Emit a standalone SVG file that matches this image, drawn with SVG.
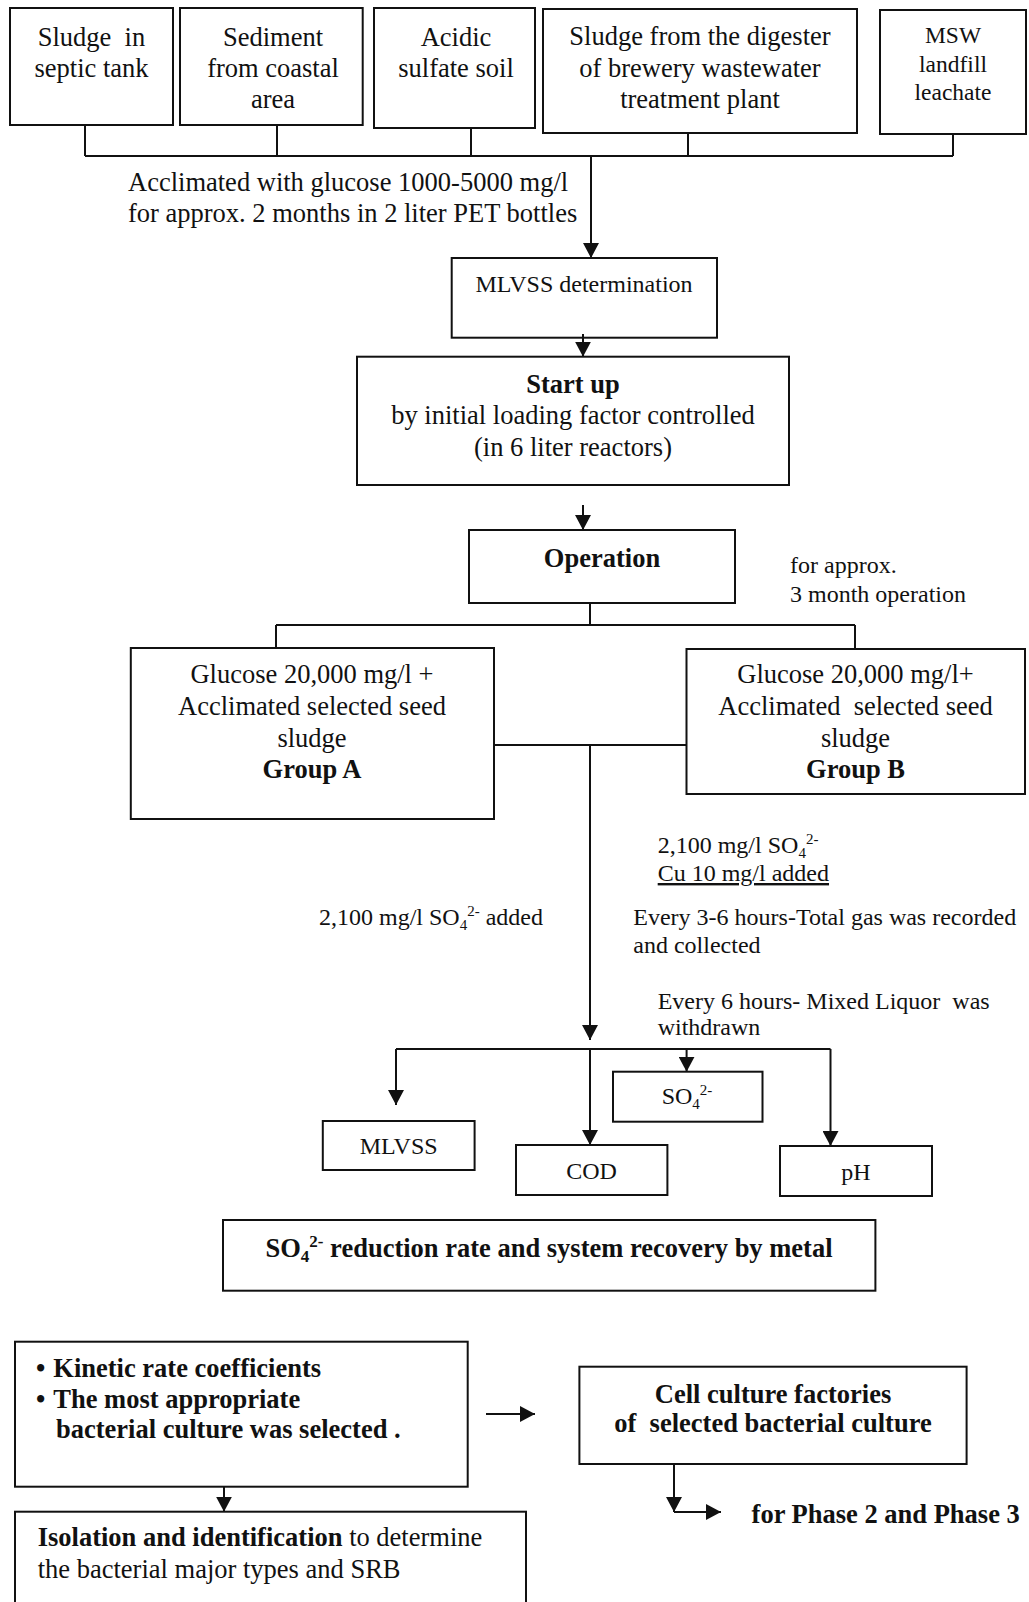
<svg xmlns="http://www.w3.org/2000/svg" width="1029" height="1602" viewBox="0 0 1029 1602">
<style>
.box{fill:none;stroke:#111;stroke-width:2}
.ln{fill:none;stroke:#111;stroke-width:2}
.t{font-family:"Liberation Serif","Times New Roman",serif;font-size:26.5px;fill:#111}
.s{font-family:"Liberation Serif","Times New Roman",serif;font-size:24px;fill:#111}
.m{text-anchor:middle}
.b{font-weight:bold}
</style>
<defs>
<marker id="ah" markerWidth="15" markerHeight="16" refX="15" refY="8" orient="auto" markerUnits="userSpaceOnUse">
<path d="M0,0 L15,8 L0,16 z" fill="#111"/>
</marker>
</defs>
<rect width="1029" height="1602" fill="#ffffff"/>

<g id="connectors">
<path class="ln" d="M85,125 V156 M277,125 V156 M471,128 V156 M688,133 V156 M953,134 V156 M85,156 H953"/>
<path class="ln" d="M591,156 V258" marker-end="url(#ah)"/>
<path class="ln" d="M583,334 V356.7" marker-end="url(#ah)"/>
<path class="ln" d="M583,505 V530" marker-end="url(#ah)"/>
<path class="ln" d="M590,603 V625 M276,625 H855 M276,625 V648 M855,625 V649"/>
<path class="ln" d="M494,745 H686.5"/>
<path class="ln" d="M590,745 V1040" marker-end="url(#ah)"/>
<path class="ln" d="M396,1049 H830.5"/>
<path class="ln" d="M396,1049 V1105" marker-end="url(#ah)"/>
<path class="ln" d="M590,1049 V1145" marker-end="url(#ah)"/>
<path class="ln" d="M686.6,1049 V1071.7" marker-end="url(#ah)"/>
<path class="ln" d="M830.5,1049 V1146" marker-end="url(#ah)"/>
<path class="ln" d="M224,1486.7 V1511.7" marker-end="url(#ah)"/>
<path class="ln" d="M486,1414 H535" marker-end="url(#ah)"/>
<path class="ln" d="M674,1464 V1512" marker-end="url(#ah)"/>
<path class="ln" d="M674,1512 H721" marker-end="url(#ah)"/>
</g>

<g id="n-septic">
<rect class="box" x="10" y="8" width="163" height="117"/>
<text class="t m" x="91.5" y="46" xml:space="preserve">Sludge  in</text>
<text class="t m" x="91.5" y="77">septic tank</text>
</g>
<g id="n-sediment">
<rect class="box" x="180" y="8" width="182.7" height="117"/>
<text class="t m" x="273" y="46">Sediment</text>
<text class="t m" x="273" y="77">from coastal</text>
<text class="t m" x="273" y="108">area</text>
</g>
<g id="n-acidic">
<rect class="box" x="374" y="8" width="161" height="120"/>
<text class="t m" x="456" y="46">Acidic</text>
<text class="t m" x="456" y="77">sulfate soil</text>
</g>
<g id="n-brewery">
<rect class="box" x="543" y="9" width="314" height="124"/>
<text class="t m" x="700" y="45">Sludge from the digester</text>
<text class="t m" x="700" y="77">of brewery wastewater</text>
<text class="t m" x="700" y="108">treatment plant</text>
</g>
<g id="n-msw">
<rect class="box" x="880" y="10" width="146" height="124"/>
<text class="t m" style="font-size:23.5px" x="953" y="43">MSW</text>
<text class="t m" style="font-size:23.5px" x="953" y="71.5">landfill</text>
<text class="t m" style="font-size:23.5px" x="953" y="100">leachate</text>
</g>

<g id="l-acclimated">
<text class="t" x="128" y="191">Acclimated with glucose 1000-5000 mg/l</text>
<text class="t" x="128" y="222">for approx. 2 months in 2 liter PET bottles</text>
</g>

<g id="n-mlvss-det">
<rect class="box" x="451.7" y="258" width="265.3" height="79.7"/>
<text class="s m" x="584" y="292">MLVSS determination</text>
</g>
<g id="n-startup">
<rect class="box" x="357" y="356.7" width="432" height="128.3"/>
<text class="t m b" x="573" y="392.7">Start up</text>
<text class="t m" x="573" y="424">by initial loading factor controlled</text>
<text class="t m" x="573" y="456">(in 6 liter reactors)</text>
</g>
<g id="n-operation">
<rect class="box" x="469" y="530" width="266" height="73"/>
<text class="t m b" x="602" y="566.7">Operation</text>
</g>
<g id="l-approx">
<text class="s" x="790" y="573">for approx.</text>
<text class="s" x="790" y="602">3 month operation</text>
</g>

<g id="n-groupA">
<rect class="box" x="130.8" y="648" width="363.2" height="171"/>
<text class="t m" x="312" y="683">Glucose 20,000 mg/l +</text>
<text class="t m" x="312" y="715">Acclimated selected seed</text>
<text class="t m" x="312" y="747">sludge</text>
<text class="t m b" x="312" y="778">Group A</text>
</g>
<g id="n-groupB">
<rect class="box" x="686.5" y="649" width="338.5" height="145"/>
<text class="t m" x="855.5" y="683">Glucose 20,000 mg/l+</text>
<text class="t m" x="855.5" y="715" xml:space="preserve">Acclimated  selected seed</text>
<text class="t m" x="855.5" y="747">sludge</text>
<text class="t m b" x="855.5" y="778">Group B</text>
</g>

<g id="l-annotations">
<text class="s" x="657.7" y="853">2,100 mg/l SO<tspan font-size="15" dy="5">4</tspan><tspan font-size="15" dy="-14">2-</tspan></text>
<text class="s" x="657.7" y="881" text-decoration="underline">Cu 10 mg/l added</text>
<text class="s" x="319" y="925">2,100 mg/l SO<tspan font-size="15" dy="5">4</tspan><tspan font-size="15" dy="-14">2-</tspan><tspan dy="9"> added</tspan></text>
<text class="s" x="633.3" y="925">Every 3-6 hours-Total gas was recorded</text>
<text class="s" x="633.3" y="953">and collected</text>
<text class="s" x="657.7" y="1009" xml:space="preserve">Every 6 hours- Mixed Liquor  was</text>
<text class="s" x="657.7" y="1035">withdrawn</text>
</g>

<g id="n-mlvss">
<rect class="box" x="322.8" y="1121" width="151.8" height="49"/>
<text class="s m" x="398.7" y="1154">MLVSS</text>
</g>
<g id="n-cod">
<rect class="box" x="516" y="1145" width="151.4" height="50"/>
<text class="s m" x="591.5" y="1179">COD</text>
</g>
<g id="n-so4">
<rect class="box" x="613" y="1071.7" width="149.5" height="50"/>
<text class="s m" x="687" y="1104">SO<tspan font-size="15" dy="5">4</tspan><tspan font-size="15" dy="-14">2-</tspan></text>
</g>
<g id="n-ph">
<rect class="box" x="780" y="1146" width="152" height="50"/>
<text class="s m" x="856" y="1180">pH</text>
</g>

<g id="n-result">
<rect class="box" x="223" y="1220" width="652.4" height="70.7"/>
<text class="t m b" x="549" y="1257">SO<tspan font-size="17" dy="5">4</tspan><tspan font-size="17" dy="-15">2-</tspan><tspan dy="10"> reduction rate and system recovery by metal</tspan></text>
</g>

<g id="n-kinetic">
<rect class="box" x="15" y="1341.7" width="452.7" height="145"/>
<text class="t b" x="36" y="1377">•</text>
<text class="t b" x="53.3" y="1377">Kinetic rate coefficients</text>
<text class="t b" x="36" y="1408">•</text>
<text class="t b" x="53.3" y="1408">The most appropriate</text>
<text class="t b" x="56" y="1438">bacterial culture was selected .</text>
</g>
<g id="n-isolation">
<rect class="box" x="15" y="1511.7" width="511" height="110"/>
<text class="t" x="37.7" y="1546"><tspan font-weight="bold">Isolation and identification</tspan> to determine</text>
<text class="t" x="37.7" y="1578">the bacterial major types and SRB</text>
</g>
<g id="n-cell">
<rect class="box" x="579.4" y="1366.7" width="387.2" height="97.3"/>
<text class="t m b" x="773" y="1403">Cell culture factories</text>
<text class="t m b" x="773" y="1431.7" xml:space="preserve">of  selected bacterial culture</text>
</g>
<g id="l-phase">
<text class="t b" x="751.6" y="1523">for Phase 2 and Phase 3</text>
</g>
</svg>
